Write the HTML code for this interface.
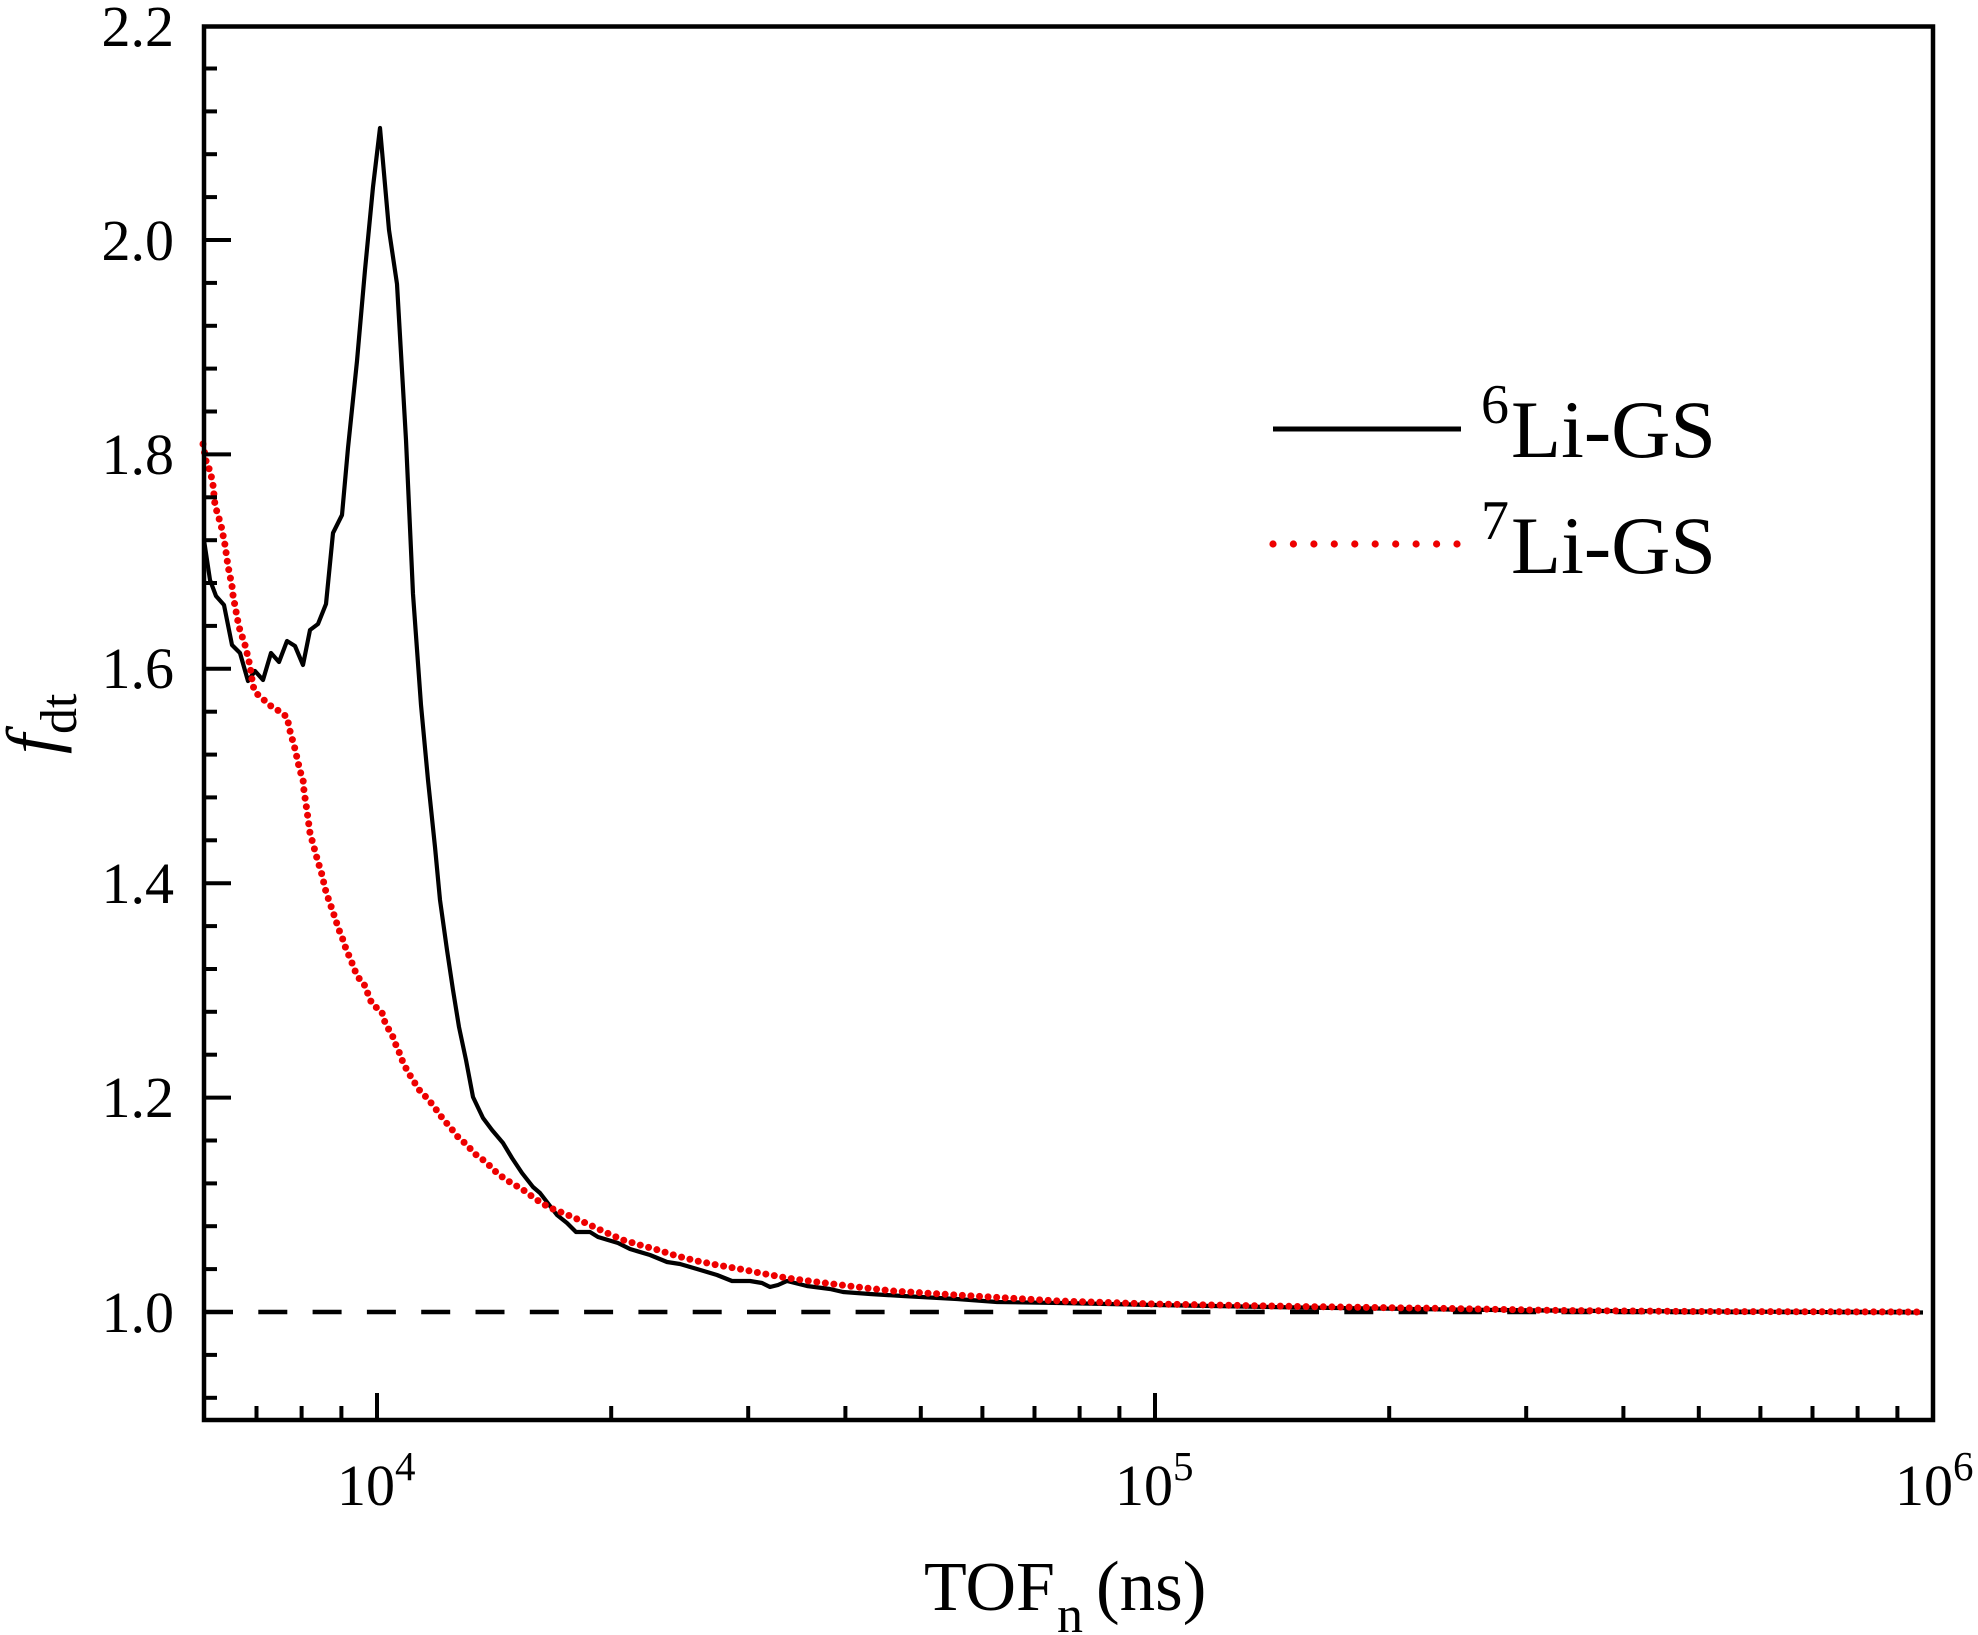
<!DOCTYPE html>
<html>
<head>
<meta charset="utf-8">
<style>
  html, body { margin: 0; padding: 0; background: #ffffff; }
  svg { display: block; }
  text { font-family: "Liberation Serif", "Times New Roman", serif; fill: #000; }
</style>
</head>
<body>
<svg width="1978" height="1635" viewBox="0 0 1978 1635" xmlns="http://www.w3.org/2000/svg">
  <rect x="0" y="0" width="1978" height="1635" fill="#ffffff"/>

  <!-- dashed reference line at 1.0 -->
  <line x1="204" y1="1312" x2="1910" y2="1312" stroke="#000" stroke-width="4.5" stroke-dasharray="29 25.3"/>

  <!-- black curve 6Li-GS -->
  <polyline fill="none" stroke="#000" stroke-width="4.2" stroke-linejoin="round" points="
  204,540 210,580 216,596 224,605 232,645 240,653 248,681 255,671 263,680 271,653 279,662 287,641 295,646 303,665 310,630 318,624 326,604 333,533 342,515 348,448 357,361 365,270 373,187 380,128 389,230 397,284 406,440 413,594 421,705 428,780 435,847 440,900 447,950 453,990 459,1027 466,1060 473,1097 483,1118 492,1130 503,1143 512,1158 522,1173 533,1187 540,1193 557,1215 567,1223 576,1232 590,1232 598,1237 618,1243 630,1249 650,1255 667,1262 680,1264 697,1269 717,1275 732,1281 750,1281 762,1283 770,1287 778,1285 787,1281 807,1286 830,1289 843,1292 870,1294 903,1296 957,1299 997,1302 1060,1303 1155,1305 1300,1307.5 1450,1309.5 1600,1311 1923,1312.5"/>

  <!-- red dotted curve 7Li-GS -->
  <polyline fill="none" stroke="#ee0000" stroke-width="7" stroke-linecap="round" stroke-linejoin="round" stroke-dasharray="0 8.6" points="
  203,444 207,466 210,470 213,485 215,505 217,512 221,525 225,545 228,566 232,586 233,595 235,606 239,627 245,645 248,657 250,666 253,686 256,693 264,700 272,707 279,711 287,717 290,731 295,749 300,771 303,779 304,791 307,811 310,833 315,851 318,862 321,871 326,892 333,912 339,930 342,937 346,949 350,958 354,968 357,976 364,984 372,1004 382,1012 383,1018 389,1030 393,1037 397,1048 401,1056 403,1063 411,1077 420,1091 428,1099 435,1108 443,1119 450,1127 458,1137 467,1145 475,1154 482,1159 490,1166 497,1173 505,1179 513,1184 522,1189 530,1195 537,1200 545,1205 553,1209 563,1213 577,1219 592,1226 607,1233 623,1240 640,1245 658,1250 677,1256 697,1261 717,1265 740,1269 760,1273 787,1278 817,1282 857,1287 893,1291 940,1294 990,1297 1060,1301 1155,1304 1300,1306.5 1450,1308.5 1560,1310.5 1700,1311.5 1923,1312"/>

  <!-- frame -->
  <rect x="204" y="26.5" width="1729" height="1393.5" fill="none" stroke="#000" stroke-width="4.5"/>

  <!-- y ticks -->
  <g stroke="#000" stroke-width="4">
    <line x1="204" y1="1397.8" x2="217" y2="1397.8"/>
    <line x1="204" y1="1354.9" x2="217" y2="1354.9"/>
    <line x1="204" y1="1312" x2="231" y2="1312"/>
    <line x1="204" y1="1269.1" x2="217" y2="1269.1"/>
    <line x1="204" y1="1226.2" x2="217" y2="1226.2"/>
    <line x1="204" y1="1183.4" x2="217" y2="1183.4"/>
    <line x1="204" y1="1140.5" x2="217" y2="1140.5"/>
    <line x1="204" y1="1097.6" x2="231" y2="1097.6"/>
    <line x1="204" y1="1054.7" x2="217" y2="1054.7"/>
    <line x1="204" y1="1011.8" x2="217" y2="1011.8"/>
    <line x1="204" y1="969" x2="217" y2="969"/>
    <line x1="204" y1="926.1" x2="217" y2="926.1"/>
    <line x1="204" y1="883.2" x2="231" y2="883.2"/>
    <line x1="204" y1="840.3" x2="217" y2="840.3"/>
    <line x1="204" y1="797.4" x2="217" y2="797.4"/>
    <line x1="204" y1="754.6" x2="217" y2="754.6"/>
    <line x1="204" y1="711.7" x2="217" y2="711.7"/>
    <line x1="204" y1="668.8" x2="231" y2="668.8"/>
    <line x1="204" y1="625.9" x2="217" y2="625.9"/>
    <line x1="204" y1="583" x2="217" y2="583"/>
    <line x1="204" y1="540.2" x2="217" y2="540.2"/>
    <line x1="204" y1="497.3" x2="217" y2="497.3"/>
    <line x1="204" y1="454.4" x2="231" y2="454.4"/>
    <line x1="204" y1="411.5" x2="217" y2="411.5"/>
    <line x1="204" y1="368.6" x2="217" y2="368.6"/>
    <line x1="204" y1="325.8" x2="217" y2="325.8"/>
    <line x1="204" y1="282.9" x2="217" y2="282.9"/>
    <line x1="204" y1="240" x2="231" y2="240"/>
    <line x1="204" y1="197.1" x2="217" y2="197.1"/>
    <line x1="204" y1="154.2" x2="217" y2="154.2"/>
    <line x1="204" y1="111.4" x2="217" y2="111.4"/>
    <line x1="204" y1="68.5" x2="217" y2="68.5"/>
  </g>

  <!-- x ticks -->
  <g stroke="#000" stroke-width="4">
    <line x1="256.5" y1="1420" x2="256.5" y2="1406"/>
    <line x1="301.6" y1="1420" x2="301.6" y2="1406"/>
    <line x1="341.4" y1="1420" x2="341.4" y2="1406"/>
    <line x1="377" y1="1420" x2="377" y2="1393"/>
    <line x1="611.2" y1="1420" x2="611.2" y2="1406"/>
    <line x1="748.2" y1="1420" x2="748.2" y2="1406"/>
    <line x1="845.4" y1="1420" x2="845.4" y2="1406"/>
    <line x1="920.8" y1="1420" x2="920.8" y2="1406"/>
    <line x1="982.4" y1="1420" x2="982.4" y2="1406"/>
    <line x1="1034.5" y1="1420" x2="1034.5" y2="1406"/>
    <line x1="1079.6" y1="1420" x2="1079.6" y2="1406"/>
    <line x1="1119.4" y1="1420" x2="1119.4" y2="1406"/>
    <line x1="1155" y1="1420" x2="1155" y2="1393"/>
    <line x1="1389.2" y1="1420" x2="1389.2" y2="1406"/>
    <line x1="1526.2" y1="1420" x2="1526.2" y2="1406"/>
    <line x1="1623.4" y1="1420" x2="1623.4" y2="1406"/>
    <line x1="1698.8" y1="1420" x2="1698.8" y2="1406"/>
    <line x1="1760.4" y1="1420" x2="1760.4" y2="1406"/>
    <line x1="1812.5" y1="1420" x2="1812.5" y2="1406"/>
    <line x1="1857.6" y1="1420" x2="1857.6" y2="1406"/>
    <line x1="1897.4" y1="1420" x2="1897.4" y2="1406"/>
  </g>

  <!-- y tick labels -->
  <g font-size="58" text-anchor="end">
    <text x="174" y="46">2.2</text>
    <text x="174" y="260">2.0</text>
    <text x="174" y="474">1.8</text>
    <text x="174" y="688">1.6</text>
    <text x="174" y="903">1.4</text>
    <text x="174" y="1117">1.2</text>
    <text x="174" y="1332">1.0</text>
  </g>

  <!-- x tick labels -->
  <text x="337" y="1505" font-size="58">10</text>
  <text x="395" y="1480" font-size="41">4</text>
  <text x="1115" y="1505" font-size="58">10</text>
  <text x="1173" y="1480" font-size="41">5</text>
  <text x="1895" y="1505" font-size="58">10</text>
  <text x="1953" y="1480" font-size="41">6</text>

  <!-- x axis title -->
  <text x="924" y="1610" font-size="70">TOF</text>
  <text x="1057" y="1632" font-size="52">n</text>
  <text x="1096" y="1610" font-size="71">(ns)</text>

  <!-- y axis title -->
  <text transform="translate(56,754) rotate(-90)" font-size="72"><tspan font-style="italic">f</tspan><tspan font-size="52" dy="20">dt</tspan></text>

  <!-- legend -->
  <line x1="1273" y1="429" x2="1461" y2="429" stroke="#000" stroke-width="5"/>
  <text x="1481" y="423" font-size="56">6</text>
  <text x="1511" y="457" font-size="82">Li-GS</text>

  <g fill="#ee0000">
    <circle cx="1273" cy="544" r="3.6"/>
    <circle cx="1293.4" cy="544" r="3.6"/>
    <circle cx="1313.9" cy="544" r="3.6"/>
    <circle cx="1334.3" cy="544" r="3.6"/>
    <circle cx="1354.8" cy="544" r="3.6"/>
    <circle cx="1375.2" cy="544" r="3.6"/>
    <circle cx="1395.7" cy="544" r="3.6"/>
    <circle cx="1416.1" cy="544" r="3.6"/>
    <circle cx="1436.6" cy="544" r="3.6"/>
    <circle cx="1457" cy="544" r="3.6"/>
  </g>
  <text x="1481" y="539" font-size="56">7</text>
  <text x="1511" y="573" font-size="82">Li-GS</text>
</svg>
</body>
</html>
